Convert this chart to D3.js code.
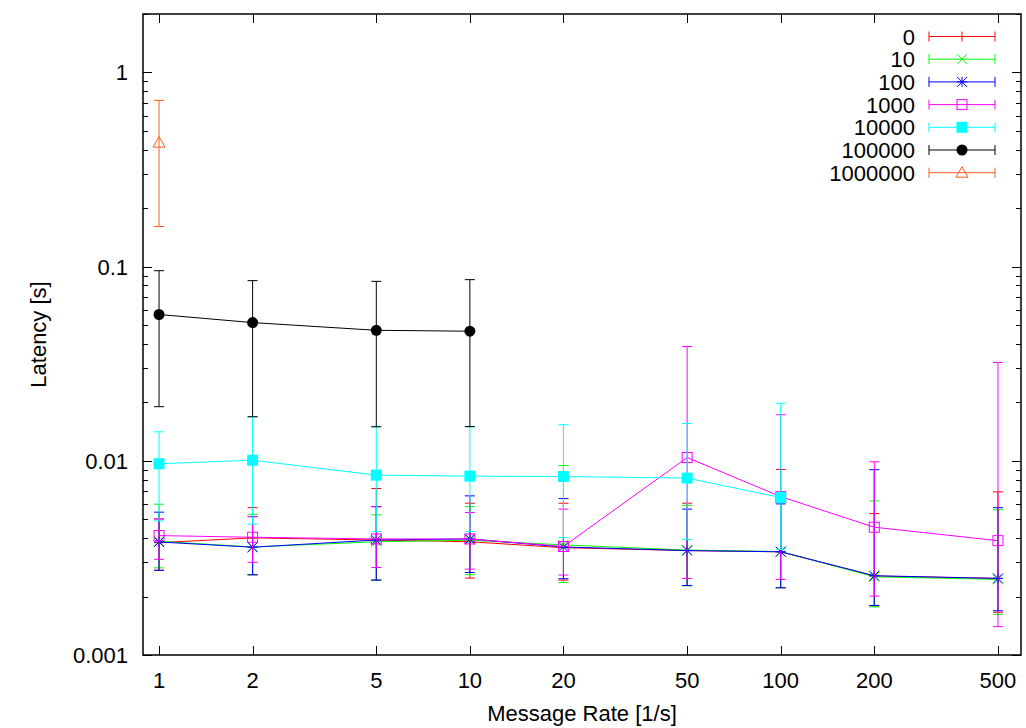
<!DOCTYPE html>
<html>
<head>
<meta charset="utf-8">
<script src="https://cdn.jsdelivr.net/npm/d3@7"></script>
<style>
  html, body { margin: 0; padding: 0; background: #fff; }
  svg { display: block; font-family: "Liberation Sans", Arial, Helvetica, sans-serif; }
</style>
</head>
<body>
<svg id="chart" width="1026" height="728"></svg>
<script>
// ---------- data ----------
const rates = [1, 2, 5, 10, 20, 50, 100, 200, 500];
const xTickLabels = ["1", "2", "5", "10", "20", "50", "100", "200", "500"];
const yTickValues = [0.001, 0.01, 0.1, 1];
const yTickLabels = ["0.001", "0.01", "0.1", "1"];
const seriesNames = ["0", "10", "100", "1000", "10000", "100000", "1000000"];

const mean0 = [0.00379, 0.00401, 0.00391, 0.00383, 0.00357, 0.00345, 0.00340, 0.00255, 0.00248];
const hi0   = [0.00502, 0.00574, 0.00720, 0.00605, 0.00605, 0.00605, 0.00903, 0.00535, 0.00692];
const lo0   = [0.00273, 0.00259, 0.00243, 0.00249, 0.00243, 0.00228, 0.00222, 0.00179, 0.00166];

const mean10 = [0.00385, 0.00360, 0.00383, 0.00390, 0.00369, 0.00347, 0.00341, 0.00253, 0.00245];
const hi10   = [0.00598, 0.00530, 0.00527, 0.00581, 0.00946, 0.00590, 0.00620, 0.00622, 0.00560];
const lo10   = [0.00281, 0.00259, 0.00243, 0.00259, 0.00236, 0.00227, 0.00222, 0.00177, 0.00162];

const mean100 = [0.00382, 0.00359, 0.00391, 0.00396, 0.00360, 0.00345, 0.00340, 0.00256, 0.00248];
const hi100   = [0.00544, 0.00516, 0.00581, 0.00660, 0.00639, 0.00564, 0.00600, 0.00900, 0.00574];
const lo100   = [0.00273, 0.00259, 0.00243, 0.00266, 0.00247, 0.00228, 0.00222, 0.00180, 0.00169];

const mean1000 = [0.00412, 0.00404, 0.00396, 0.00396, 0.00362, 0.0104, 0.00654, 0.00455, 0.00388];
const hi1000   = [0.00502, 0.00516, 0.00580, 0.00542, 0.00564, 0.0388, 0.01727, 0.00988, 0.0321];
const lo1000   = [0.00311, 0.00300, 0.00282, 0.00277, 0.00258, 0.00248, 0.00245, 0.00201, 0.00140];

const rates10000 = [1, 2, 5, 10, 20, 50, 100];
const mean10000 = [0.00966, 0.01007, 0.00844, 0.00834, 0.00830, 0.00815, 0.00647];
const hi10000   = [0.0141, 0.01686, 0.01503, 0.01496, 0.01534, 0.01556, 0.0198];
const lo10000   = [0.0049, 0.00472, 0.00432, 0.00432, 0.00402, 0.00393, 0.0035];

const rates100000 = [1, 2, 5, 10];
const mean100000 = [0.0567, 0.0515, 0.0470, 0.0465];
const hi100000   = [0.0953, 0.0847, 0.0840, 0.0857];
const lo100000   = [0.0190, 0.01686, 0.01497, 0.0150];

const rates1000000 = [1];
const mean1000000 = [0.435];
const hi1000000   = [0.718];
const lo1000000   = [0.161];

// ---------- build series ----------
const colors = ["#ff0000", "#00ff00", "#0000ff", "#ff00ff", "#00ffff", "#000000", "#ff5a1e"];
const symbols = ["plus", "cross", "star", "square", "squareFilled", "circle", "triangle"];
const seriesData = [
  [rates, mean0, hi0, lo0],
  [rates, mean10, hi10, lo10],
  [rates, mean100, hi100, lo100],
  [rates, mean1000, hi1000, lo1000],
  [rates10000, mean10000, hi10000, lo10000],
  [rates100000, mean100000, hi100000, lo100000],
  [rates1000000, mean1000000, hi1000000, lo1000000]
].map((s, i) => ({
  name: seriesNames[i], color: colors[i], symbol: symbols[i],
  points: s[0].map((r, j) => ({ x: r, y: s[1][j], hi: s[2][j], lo: s[3][j] }))
}));

// ---------- layout ----------
const svg = d3.select("#chart");
const L = 143, R = 1021, T = 14, B = 655;
const x = d3.scaleLog().domain([0.888, 593]).range([L, R]);
const y = d3.scaleLog().domain([0.001, 2]).range([B, T]);
const FS = 22;

// axes ticks (gnuplot style, inward, mirrored)
const axes = svg.append("g").attr("stroke", "#000").attr("stroke-width", 1);
const majLen = 9, minLen = 5;
rates.forEach(r => {
  const px = Math.round(x(r)) + 0.5;
  axes.append("line").attr("x1", px).attr("x2", px).attr("y1", B).attr("y2", B - majLen);
  axes.append("line").attr("x1", px).attr("x2", px).attr("y1", T).attr("y2", T + majLen);
});
const yMinor = [];
for (let e = -3; e <= 0; e++) for (let m = 2; m <= 9; m++) {
  const v = m * Math.pow(10, e);
  if (v <= 2) yMinor.push(v);
}
yMinor.forEach(v => {
  const py = Math.round(y(v)) + 0.5;
  axes.append("line").attr("x1", L).attr("x2", L + minLen).attr("y1", py).attr("y2", py);
  axes.append("line").attr("x1", R).attr("x2", R - minLen).attr("y1", py).attr("y2", py);
});
yTickValues.forEach(v => {
  const py = Math.round(y(v)) + 0.5;
  axes.append("line").attr("x1", L).attr("x2", L + majLen).attr("y1", py).attr("y2", py);
  axes.append("line").attr("x1", R).attr("x2", R - majLen).attr("y1", py).attr("y2", py);
});

// tick labels
const labels = svg.append("g").attr("font-size", FS).attr("fill", "#000");
rates.forEach((r, i) => {
  labels.append("text").attr("x", x(r)).attr("y", B + 33).attr("text-anchor", "middle").text(xTickLabels[i]);
});
yTickValues.forEach((v, i) => {
  labels.append("text").attr("x", L - 15).attr("y", y(v) + 8).attr("text-anchor", "end").text(yTickLabels[i]);
});
labels.append("text").attr("x", (L + R) / 2).attr("y", 721).attr("text-anchor", "middle").text("Message Rate [1/s]");
labels.append("text").attr("transform", `translate(46,${(T + B) / 2}) rotate(-90)`).attr("text-anchor", "middle").text("Latency [s]");

// ---------- marker drawing ----------
function drawSymbol(g, type, cx, cy, color) {
  const s = 5;
  if (type === "plus") {
    g.append("path").attr("d", `M${cx - s},${cy}H${cx + s}M${cx},${cy - s}V${cy + s}`).attr("stroke", color).attr("fill", "none");
  } else if (type === "cross") {
    g.append("path").attr("d", `M${cx - s},${cy - s}L${cx + s},${cy + s}M${cx - s},${cy + s}L${cx + s},${cy - s}`).attr("stroke", color).attr("fill", "none");
  } else if (type === "star") {
    g.append("path").attr("d", `M${cx - s},${cy}H${cx + s}M${cx},${cy - s}V${cy + s}M${cx - s},${cy - s}L${cx + s},${cy + s}M${cx - s},${cy + s}L${cx + s},${cy - s}`).attr("stroke", color).attr("fill", "none");
  } else if (type === "square") {
    g.append("rect").attr("x", cx - s).attr("y", cy - s).attr("width", 2 * s).attr("height", 2 * s).attr("stroke", color).attr("fill", "none");
  } else if (type === "squareFilled") {
    g.append("rect").attr("x", cx - 5.5).attr("y", cy - 5.5).attr("width", 11).attr("height", 11).attr("fill", color);
  } else if (type === "circle") {
    g.append("circle").attr("cx", cx).attr("cy", cy).attr("r", 5.5).attr("fill", color);
  } else if (type === "triangle") {
    g.append("path").attr("d", `M${cx},${cy - 6}L${cx + 6},${cy + 4.5}L${cx - 6},${cy + 4.5}Z`).attr("stroke", color).attr("fill", "none");
  }
}

// ---------- series ----------
const plot = svg.append("g");
const line = d3.line().x(d => x(d.x)).y(d => y(d.y));
const cap = 5;
seriesData.forEach(s => {
  const g = plot.append("g").attr("stroke-width", 1);
  s.points.forEach(p => {
    const px = x(p.x);
    g.append("path")
      .attr("d", `M${px},${y(p.lo)}V${y(p.hi)}M${px - cap},${y(p.hi)}H${px + cap}M${px - cap},${y(p.lo)}H${px + cap}`)
      .attr("stroke", s.color).attr("fill", "none");
  });
  g.append("path").datum(s.points).attr("d", line).attr("stroke", s.color).attr("fill", "none");
  s.points.forEach(p => drawSymbol(g, s.symbol, x(p.x), y(p.y), s.color));
});

// ---------- legend ----------
const leg = svg.append("g");
const lx1 = 929, lx2 = 995, ltx = 915;
seriesData.forEach((s, i) => {
  const ly = 36.5 + i * 22.7;
  leg.append("text").attr("x", ltx).attr("y", ly + 8).attr("text-anchor", "end").attr("font-size", FS).text(s.name);
  leg.append("path").attr("d", `M${lx1},${ly}H${lx2}M${lx1},${ly - 5}V${ly + 5}M${lx2},${ly - 5}V${ly + 5}`)
    .attr("stroke", s.color).attr("fill", "none");
  drawSymbol(leg, s.symbol, (lx1 + lx2) / 2, ly, s.color);
});

// frame
svg.append("rect").attr("x", L).attr("y", T).attr("width", R - L).attr("height", B - T)
  .attr("fill", "none").attr("stroke", "#000").attr("stroke-width", 1.5);
</script>
</body>
</html>
